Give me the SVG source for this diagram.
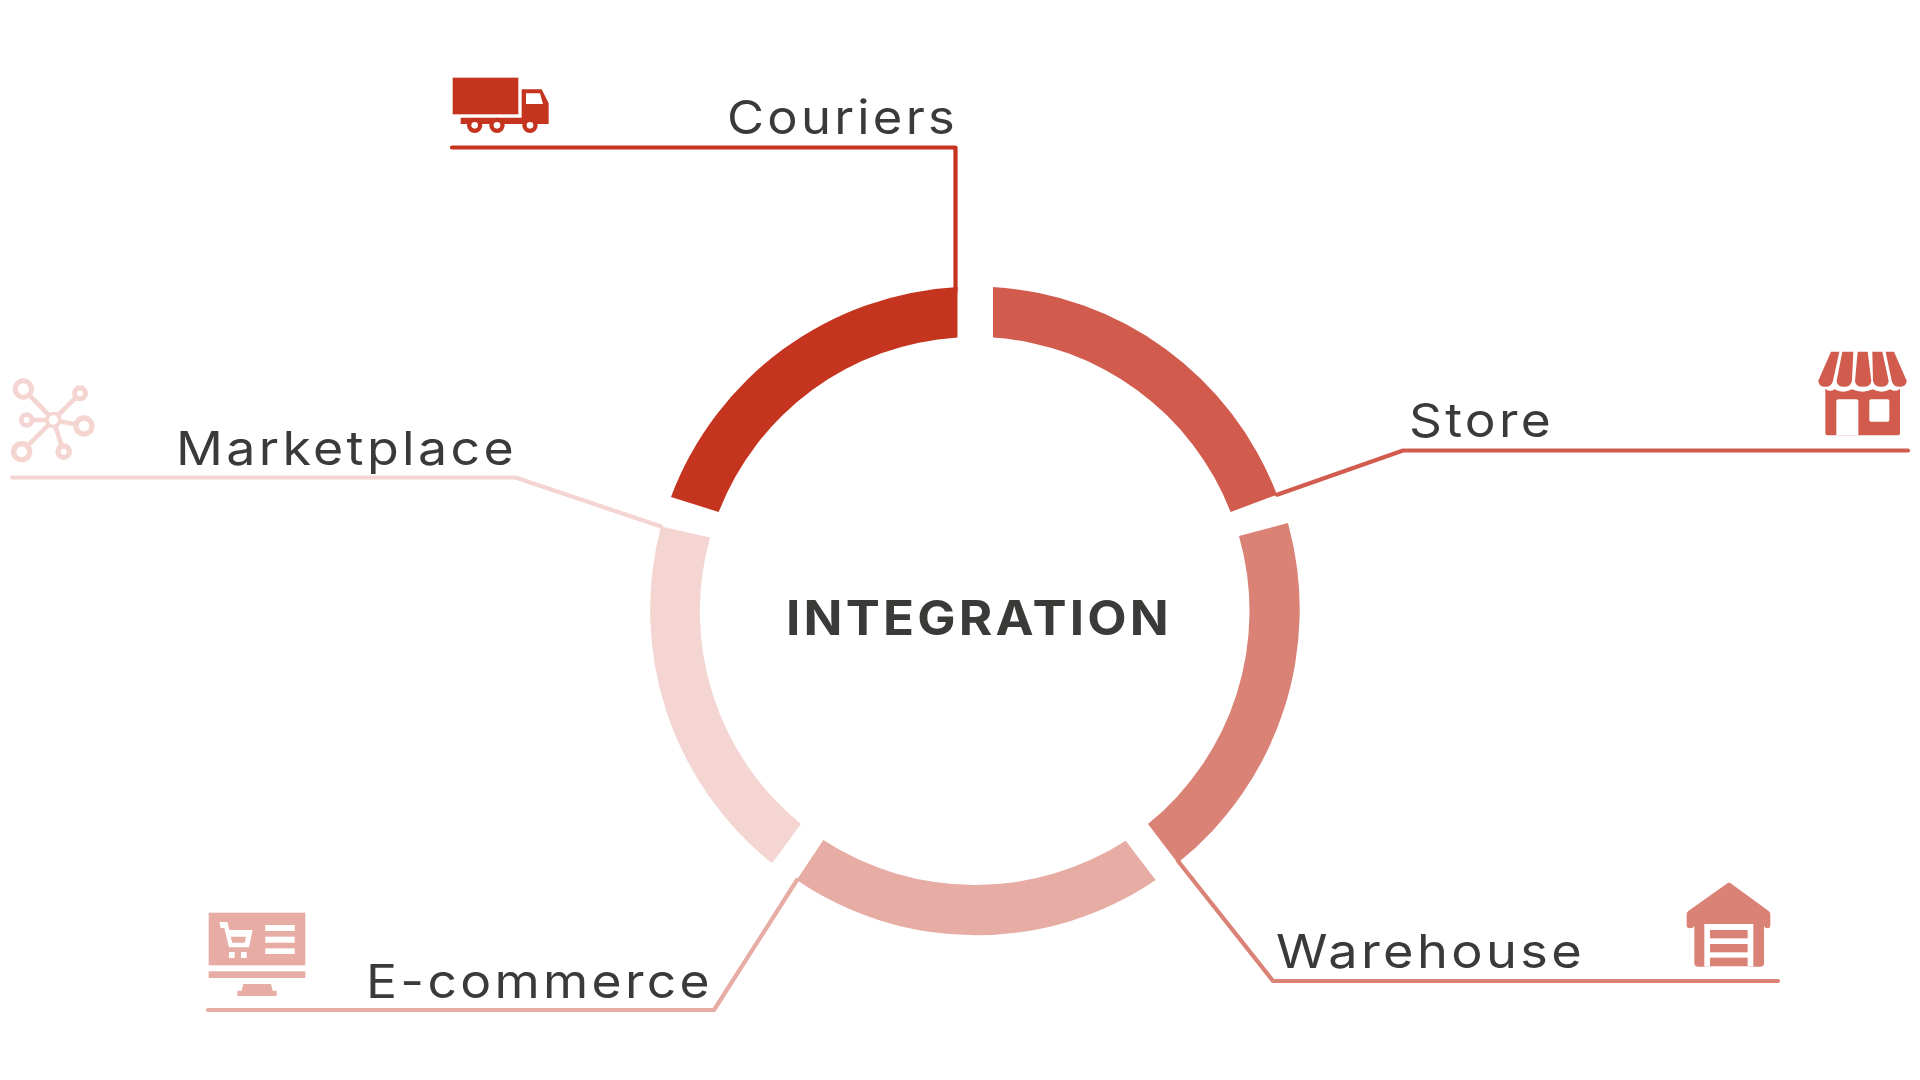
<svg xmlns="http://www.w3.org/2000/svg" width="1920" height="1080" viewBox="0 0 1920 1080">
<style>
.lbl{font-family:Inter,"Liberation Sans",sans-serif;font-size:47px;letter-spacing:3px;fill:#3a3a38;font-weight:400}
.ttl{font-family:Inter,"Liberation Sans",sans-serif;font-size:48px;letter-spacing:3px;fill:#3a3a38;font-weight:700}
.ln{fill:none;stroke-width:4.2;stroke-linecap:round;stroke-linejoin:round}
.c1{fill:#c4341f}.c2{fill:#d15c4e}.c3{fill:#db8277}.c4{fill:#e7ada5}.c5{fill:#f4d5d2}
.w{fill:#fff}
</style>
<rect width="1920" height="1080" fill="#fff"/>
<g id="connectors">
<path class="ln" stroke="#c4341f" d="M452 147.5H955.5V292"/>
<path class="ln" stroke="#d15c4e" d="M1277 494.7L1403 450.5H1908"/>
<path class="ln" stroke="#db8277" d="M1178 861L1273 981H1778"/>
<path class="ln" stroke="#e7ada5" d="M797 880L714 1010H208"/>
<path class="ln" stroke="#f4d5d2" d="M661 526.5L515.5 477.5H12"/>
</g>
<g id="ring">
<path id="seg-couriers" class="c1" d="M671 497A324.5 324.5 0 0 1 957.5 287V337.6A274 274 0 0 0 718.7 512Z"/>
<path id="seg-store" class="c2" d="M993 287A324.5 324.5 0 0 1 1277 494.7L1230.6 512A274 274 0 0 0 993 337.6Z"/>
<path id="seg-warehouse" class="c3" d="M1288 523A324.5 324.5 0 0 1 1177.7 863L1148 824A274 274 0 0 0 1239 536Z"/>
<path id="seg-ecommerce" class="c4" d="M1155.7 880A319 319 0 0 1 796.7 880L823.3 840A278 278 0 0 0 1125.7 840.7Z"/>
<path id="seg-marketplace" class="c5" d="M772 863.3A324.5 324.5 0 0 1 661 526.5L710 537.5A274 274 0 0 0 801 824Z"/>
</g>
<g id="center"><text class="ttl" x="786" y="635" textLength="386" lengthAdjust="spacingAndGlyphs">INTEGRATION</text></g>
<g id="couriers">
<text class="lbl" x="727" y="134" textLength="231" lengthAdjust="spacingAndGlyphs">Couriers</text>
<g transform="translate(430 50) scale(.3333)">
<rect class="c1" x="68" y="83" width="197" height="110"/>
<path class="c1" d="M275 118H335L356 160V222H92V203H275Z"/>
<path class="w" d="M288 130H330L339 162H288Z"/>
<g class="c1"><circle cx="134" cy="226" r="23"/><circle cx="201" cy="226" r="23"/><circle cx="300" cy="226" r="23"/></g>
<g class="w"><circle cx="134" cy="226" r="10"/><circle cx="201" cy="226" r="10"/><circle cx="300" cy="226" r="10"/></g>
</g>
</g>
<g id="store">
<text class="lbl" x="1409" y="437" textLength="145" lengthAdjust="spacingAndGlyphs">Store</text>
<g transform="translate(1790 330) scale(.3333)">
<path class="c2" d="M106 176Q120 188 133 178Q160 192 186 178Q218 192 248 178Q276 192 301 178Q315 188 330 176V310Q330 316 324 316H112Q106 316 106 310Z"/>
<path class="w" d="M139 316V214Q139 208 145 208H199Q205 208 205 214V316Z"/>
<rect class="w" x="238" y="208" width="60" height="67" rx="5"/>
<path class="c2" d="M123 65H148L129 152Q125 170 107 170Q85 170 85 152Z"/>
<path class="c2" d="M157 65H190L186 152Q183 170 163 170Q140 170 140 152Z"/>
<path class="c2" d="M203 65H233L244 152Q244 170 219 170Q195 170 195 152Z"/>
<path class="c2" d="M247 65H277L296 152Q296 170 273 170Q252 170 249 152Z"/>
<path class="c2" d="M287 65H312L350 152Q350 170 328 170Q309 170 305 152Z"/>
</g>
</g>
<g id="warehouse">
<text class="lbl" x="1276" y="968" textLength="309" lengthAdjust="spacingAndGlyphs">Warehouse</text>
<g transform="translate(1660 860) scale(.3333)">
<path class="c3" d="M200 71Q207 66 214 71L325 152Q331 156 331 162V195Q331 205 322 205Q315 205 312 198V310Q312 320 302 320H113Q103 320 103 310V198Q100 205 90 205Q80 205 80 195V162Q80 156 86 152Z"/>
<rect class="w" x="133" y="192" width="147" height="128"/>
<g class="c3"><rect x="150" y="210" width="113" height="25"/><rect x="150" y="252" width="113" height="25"/><rect x="150" y="293" width="113" height="25"/></g>
</g>
</g>
<g id="ecommerce">
<text class="lbl" x="366" y="998" textLength="347" lengthAdjust="spacingAndGlyphs">E-commerce</text>
<g transform="translate(190 890) scale(.3333)">
<rect class="c4" x="56" y="68" width="290" height="158"/>
<rect class="c4" x="56" y="244" width="290" height="20"/>
<path class="c4" d="M160 282H243L248 302H260V318H142V302H155Z"/>
<g class="w"><rect x="226" y="105" width="88" height="18"/><rect x="226" y="140" width="88" height="18"/><rect x="226" y="175" width="88" height="17"/>
<rect x="117" y="186" width="17" height="18"/><rect x="153" y="186" width="17" height="18"/>
<path fill-rule="evenodd" d="M88 96H112L118 120H188L177 172H117L103 114H92ZM122 140L127 158H164L168 140Z"/></g>
</g>
</g>
<g id="marketplace">
<text class="lbl" x="176" y="465" textLength="341" lengthAdjust="spacingAndGlyphs">Marketplace</text>
<g transform="translate(0 360) scale(.3333)">
<g fill="none" stroke="#f4d5d2" stroke-width="14">
<path d="M70 87L160 180L240 100M80 180H160L252 198M65 275L160 180L191 275"/>
</g>
<g class="c5"><circle cx="160" cy="180" r="25"/><circle cx="70" cy="87" r="32"/><circle cx="240" cy="100" r="24"/><circle cx="80" cy="180" r="23"/><circle cx="252" cy="198" r="32"/><circle cx="65" cy="275" r="32"/><circle cx="191" cy="275" r="25"/></g>
<g class="w"><circle cx="160" cy="180" r="14"/><circle cx="70" cy="87" r="17"/><circle cx="240" cy="100" r="9"/><circle cx="80" cy="180" r="9"/><circle cx="252" cy="198" r="16"/><circle cx="65" cy="275" r="16"/><circle cx="191" cy="275" r="9"/></g>
</g>
</g>
</svg>
